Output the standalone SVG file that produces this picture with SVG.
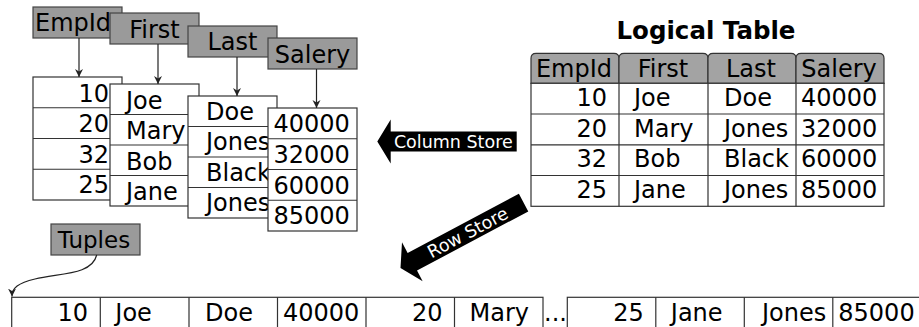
<svg xmlns="http://www.w3.org/2000/svg" width="919" height="327" viewBox="0 0 919 327">
<style>
text{font-family:"DejaVu Sans","Liberation Sans",sans-serif;font-size:24px;fill:#000}
.hd{fill:#9a9a9a;stroke:#444;stroke-width:1.2}
.lh{fill:#a3a3a3;stroke:#333;stroke-width:1.2}
.cell{fill:#fff;stroke:#333;stroke-width:1.2}
.ln{stroke:#333;stroke-width:1.2;fill:none}
.e{text-anchor:end}
.m{text-anchor:middle}
.title{font-weight:bold;font-size:24.5px}
.conn{stroke:#222;stroke-width:1.2;fill:none}
.big{fill:#000}
.wt{fill:#fff;font-size:17.5px;text-anchor:middle}
</style>
<defs>
<marker id="ah" markerUnits="userSpaceOnUse" markerWidth="10" markerHeight="10" refX="8" refY="4" orient="auto">
<path d="M0,0 L8,4 L0,8 L2.5,4 z" fill="#222"/>
</marker>
</defs>

<g id="col-empid">
<rect class="hd" x="33" y="7" width="89" height="31"/>
<text x="35" y="31">EmpId</text>
<rect class="cell" x="33" y="77" width="89" height="123"/>
<path class="ln" d="M33,107.75H122M33,138.5H122M33,169.25H122"/>
<text class="e" x="109" y="101.5">10</text>
<text class="e" x="109" y="132">20</text>
<text class="e" x="109" y="162.5">32</text>
<text class="e" x="109" y="193">25</text>
</g>

<g id="col-first">
<rect class="hd" x="110" y="13" width="89" height="31"/>
<text class="m" x="154.5" y="37.5">First</text>
<rect class="cell" x="110" y="84" width="89" height="122"/>
<path class="ln" d="M110,114.5H199M110,145H199M110,175.5H199"/>
<text x="126" y="108.5">Joe</text>
<text x="126" y="139">Mary</text>
<text x="126" y="169.5">Bob</text>
<text x="126" y="200">Jane</text>
</g>

<g id="col-last">
<rect class="hd" x="188" y="26" width="89" height="31"/>
<text class="m" x="232.5" y="50">Last</text>
<rect class="cell" x="188" y="96" width="89" height="122"/>
<path class="ln" d="M188,126.5H277M188,157H277M188,187.5H277"/>
<text x="206" y="119.5">Doe</text>
<text x="206" y="150">Jones</text>
<text x="206" y="180.5">Black</text>
<text x="206" y="211">Jones</text>
</g>

<g id="col-salery">
<rect class="hd" x="268" y="38" width="89" height="31"/>
<text class="m" x="312.5" y="62.5">Salery</text>
<rect class="cell" x="268" y="108" width="89" height="123"/>
<path class="ln" d="M268,138.75H357M268,169.5H357M268,200.25H357"/>
<text x="273.5" y="132">40000</text>
<text x="273.5" y="162.75">32000</text>
<text x="273.5" y="193.5">60000</text>
<text x="273.5" y="224.25">85000</text>
</g>

<g id="logical-table">
<text class="title m" x="706" y="39">Logical Table</text>
<path class="lh" d="M531,83.3V58.3Q531,53.3 536,53.3H614Q619,53.3 619,58.3V83.3Z"/>
<path class="lh" d="M619,83.3V58.3Q619,53.3 624,53.3H703Q708,53.3 708,58.3V83.3Z"/>
<path class="lh" d="M708,83.3V58.3Q708,53.3 713,53.3H791Q796,53.3 796,58.3V83.3Z"/>
<path class="lh" d="M796,83.3V58.3Q796,53.3 801,53.3H879Q884,53.3 884,58.3V83.3Z"/>
<rect class="cell" x="531" y="83.3" width="353" height="123"/>
<path class="ln" d="M531,114H884M531,144.8H884M531,175.5H884M619,83.3V206.3M708,83.3V206.3M796,83.3V206.3"/>
<text class="m" x="574" y="76.5">EmpId</text>
<text class="m" x="663" y="76.5">First</text>
<text class="m" x="751" y="76.5">Last</text>
<text class="m" x="839" y="76.5">Salery</text>
<text class="e" x="607" y="106">10</text>
<text class="e" x="607" y="136.5">20</text>
<text class="e" x="607" y="167">32</text>
<text class="e" x="607" y="197.5">25</text>
<text x="634" y="106">Joe</text>
<text x="634" y="136.5">Mary</text>
<text x="634" y="167">Bob</text>
<text x="634" y="197.5">Jane</text>
<text x="724" y="106">Doe</text>
<text x="724" y="136.5">Jones</text>
<text x="724" y="167">Black</text>
<text x="724" y="197.5">Jones</text>
<text x="801" y="106">40000</text>
<text x="801" y="136.5">32000</text>
<text x="801" y="167">60000</text>
<text x="801" y="197.5">85000</text>
</g>

<g id="tuples-label">
<rect class="hd" x="51" y="224" width="89" height="31"/>
<text class="m" x="94" y="248" style="font-size:23px">Tuples</text>
</g>

<g id="tuples-row">
<rect class="cell" x="11.7" y="297.3" width="531.3" height="40"/>
<path class="ln" d="M100.3,297.3V330M189,297.3V330M277.5,297.3V330M366,297.3V330M454.5,297.3V330"/>
<rect class="cell" x="567.3" y="297.3" width="354" height="40"/>
<path class="ln" d="M655.8,297.3V330M744.3,297.3V330M832.8,297.3V330"/>
<text class="e" x="88" y="321">10</text>
<text x="115.3" y="321">Joe</text>
<text x="205" y="321">Doe</text>
<text x="283" y="321">40000</text>
<text class="e" x="442.5" y="321">20</text>
<text x="469.5" y="321">Mary</text>
<text x="544" y="321">...</text>
<text class="e" x="643.8" y="321">25</text>
<text x="670.8" y="321">Jane</text>
<text x="762" y="321">Jones</text>
<text x="838.3" y="321">85000</text>
</g>

<g id="connectors">
<line class="conn" x1="79" y1="38" x2="79" y2="77" marker-end="url(#ah)"/>
<line class="conn" x1="158" y1="44" x2="158" y2="84" marker-end="url(#ah)"/>
<line class="conn" x1="237" y1="57" x2="237" y2="96" marker-end="url(#ah)"/>
<line class="conn" x1="316.5" y1="69" x2="316.5" y2="108" marker-end="url(#ah)"/>
<path class="conn" d="M96.7,255 C92,275 60,273 35,279 C18,283 12,288 12,296.5" marker-end="url(#ah)"/>
<g id="column-store" transform="translate(377.3,141.5)">
<path class="big" d="M0,0 L13.4,-22 V-10 H139.4 V10 H13.4 V22 Z"/>
<text class="wt" x="76" y="6.3">Column Store</text>
</g>
<g id="row-store" transform="translate(400.5,268) rotate(-28)">
<path class="big" d="M0,0 L13.4,-22 V-10 H139.4 V10 H13.4 V22 Z"/>
<text class="wt" x="76" y="6.3">Row Store</text>
</g>
</g>
</svg>
